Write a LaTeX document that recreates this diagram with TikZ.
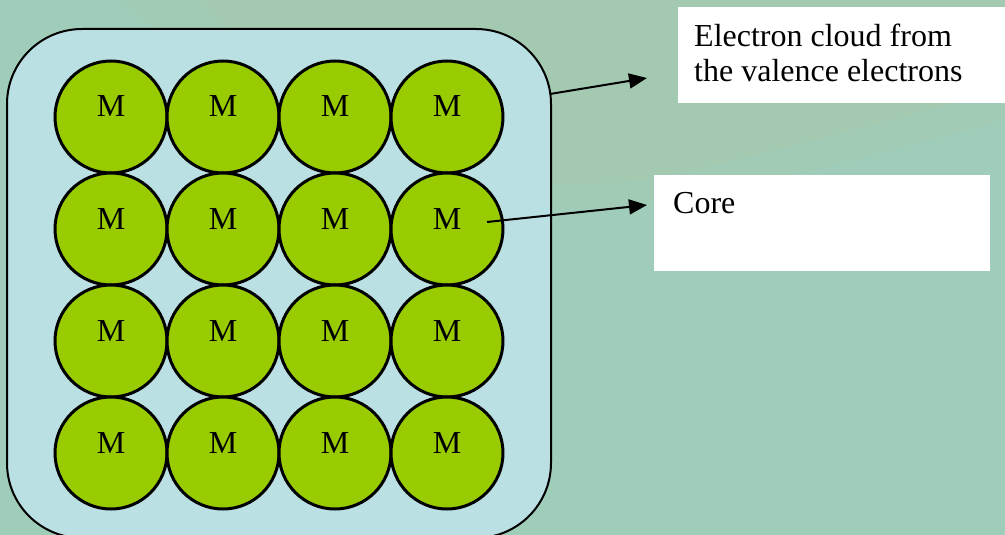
\documentclass[tikz,border=0pt]{standalone}
\usepackage{fontspec}
\setmainfont{Liberation Serif}
\usetikzlibrary{arrows.meta}
\definecolor{bgc}{HTML}{9FCDBA}
\definecolor{texc}{HTML}{A9C8A8}
\definecolor{cloudc}{HTML}{BAE0E4}
\definecolor{atomc}{HTML}{99CC00}
\tikzset{
  atom/.style={circle, draw=black, line width=3pt, fill=atomc, minimum size=112pt, inner sep=0pt},
  mlabel/.style={anchor=base, inner sep=0pt, font=\fontsize{32}{35}\selectfont},
  txtbox/.style={fill=white, draw=none},
  lbl/.style={anchor=base west, inner sep=0pt, font=\fontsize{32}{35}\selectfont, align=left},
  arr/.style={line width=2pt, -{Triangle[length=18pt,width=15pt]}}
}
\begin{document}
\begin{tikzpicture}[x=1pt,y=-1pt]
\useasboundingbox (0,0) rectangle (1005,535);
\fill[bgc] (0,0) rectangle (1005,535);
% faded texture at the top
\fill[texc, opacity=0.25] (120,0) -- (1005,0) -- (1005,120) .. controls (850,160) and (750,190) .. (640,205)
  .. controls (500,220) and (380,195) .. (320,150) .. controls (240,90) and (170,40) .. (120,0) -- cycle;
\fill[texc, opacity=0.3] (200,0) -- (1005,0) -- (1005,90) .. controls (850,130) and (750,160) .. (640,180)
  .. controls (520,195) and (400,170) .. (350,130) .. controls (280,80) and (230,35) .. (200,0) -- cycle;
% electron cloud
\draw[fill=cloudc, line width=2pt, rounded corners=75pt] (7,29) rectangle (551,538);
\coordinate (cloudedge) at (550,94);
% atoms
\foreach \r/\y in {1/117,2/229,3/341,4/453}{
  \foreach \c/\x in {1/111,2/223,3/335,4/447}{
    \node[atom] (m\r\c) at (\x,\y) {};
    \node[mlabel] (t\r\c) at (m\r\c.center) {M};
  }
}
% label boxes
\fill[txtbox] (678,7) rectangle (1005,103);
\node[lbl] (cloudtxt) at (694,47) {Electron cloud from};
\node[lbl] (cloudtxt2) at (694,82) {the valence electrons};
\fill[txtbox] (654,175) rectangle (990,271);
\node[lbl] (coretxt) at (673,213) {Core};
% arrows
\coordinate (tip1) at (647,78);
\coordinate (corestart) at (487,222);
\coordinate (tip2) at (647,205);
\draw[arr] (cloudedge) -- (tip1);
\draw[arr] (corestart) -- (tip2);
\end{tikzpicture}
\end{document}
